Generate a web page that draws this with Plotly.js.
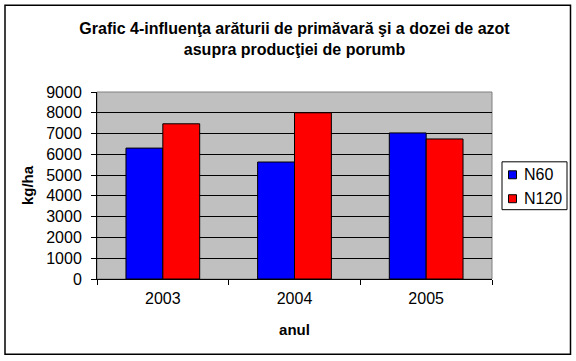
<!DOCTYPE html>
<html>
<head>
<meta charset="utf-8">
<script src="https://cdn.plot.ly/plotly-3.0.1.min.js"></script>
<style>html,body{margin:0;padding:0;background:#fff;}#chart{width:576px;height:361px;}</style>
</head>
<body>
<div id="chart"></div>
<script>
const years = ["2003", "2004", "2005"];
const n60 = [6300, 5630, 7030];
const n120 = [7470, 8000, 6740];
const seriesNames = ["N60", "N120"];
const seriesColors = ["#0000FF", "#FF0000"];
const yTicks = [0, 1000, 2000, 3000, 4000, 5000, 6000, 7000, 8000, 9000];

const font = "Liberation Sans, Arial, sans-serif";
const traces = [
  {type: "bar", name: seriesNames[0], x: years, y: n60, showlegend: false,
   marker: {color: seriesColors[0], line: {color: "#000", width: 1}}},
  {type: "bar", name: seriesNames[1], x: years, y: n120, showlegend: false,
   marker: {color: seriesColors[1], line: {color: "#000", width: 1}}}
];
const L = 97, R = 492, T = 92, B = 279.5, W = 576, H = 361;
const px = v => (v - L) / (R - L);
const py = v => (B - v) / (B - T);

// legend drawn as layout decoration (box, swatches, labels)
const legendShapes = [
  {type: "rect", xref: "paper", yref: "paper", x0: px(502), x1: px(567), y0: py(210), y1: py(162),
   line: {color: "#000", width: 1}, fillcolor: "#fff", layer: "above"}
];
const legendAnn = [];
const itemY = [175, 199];
seriesNames.forEach((n, i) => {
  legendShapes.push({type: "rect", xref: "paper", yref: "paper",
    x0: px(508.5), x1: px(516.5), y0: py(itemY[i] + 4), y1: py(itemY[i] - 4),
    line: {color: "#000", width: 1}, fillcolor: seriesColors[i], layer: "above"});
  legendAnn.push({xref: "paper", yref: "paper", x: px(522), y: py(itemY[i]),
    xanchor: "left", yanchor: "middle", showarrow: false, text: n,
    font: {family: font, size: 16, color: "#000"}});
});

const layout = {
  width: W, height: H,
  margin: {l: L, r: W - R, t: T, b: H - B, pad: 0, autoexpand: false},
  paper_bgcolor: "#fff",
  plot_bgcolor: "#C0C0C0",
  font: {family: font, size: 16, color: "#000"},
  title: {
    text: "<b>Grafic 4-influenţa arăturii de primăvară şi a dozei de azot<br>asupra producţiei de porumb</b>",
    font: {family: font, size: 16, color: "#000"},
    x: 0.5, xref: "paper", xanchor: "center",
    y: 1 - 34 / H, yref: "container", yanchor: "middle"
  },
  barmode: "group",
  bargap: 0.44,
  bargroupgap: 0,
  showlegend: false,
  xaxis: {
    type: "category",
    showline: true, linecolor: "#000", linewidth: 1,
    ticks: "outside", ticklen: 5, tickcolor: "#000", tickson: "boundaries",
    showgrid: false, ticklabelstandoff: 5,
    tickfont: {family: font, size: 16},
    title: {text: "<b>anul</b>", font: {family: font, size: 15}, standoff: 18}
  },
  yaxis: {
    range: [0, 9000], tickvals: yTicks, ticktext: yTicks.map(String),
    showline: true, linecolor: "#000", linewidth: 1,
    ticks: "outside", ticklen: 5, tickcolor: "#000",
    showgrid: true, gridcolor: "#000", gridwidth: 1,
    zeroline: false, ticklabelstandoff: 6,
    tickfont: {family: font, size: 16},
    title: {text: "<b>kg/ha</b>", font: {family: font, size: 15}, standoff: 8}
  },
  annotations: legendAnn,
  shapes: [
    {type: "rect", xref: "paper", yref: "paper", x0: 0, x1: 1, y0: 0, y1: 1,
     line: {color: "#808080", width: 1}, layer: "below"},
    {type: "rect", xref: "paper", yref: "paper", x0: px(5), x1: px(570.5), y0: py(355), y1: py(5),
     line: {color: "#000", width: 1.5}}
  ].concat(legendShapes)
};
Plotly.newPlot("chart", traces, layout, {displayModeBar: false, staticPlot: true});
</script>
</body>
</html>
